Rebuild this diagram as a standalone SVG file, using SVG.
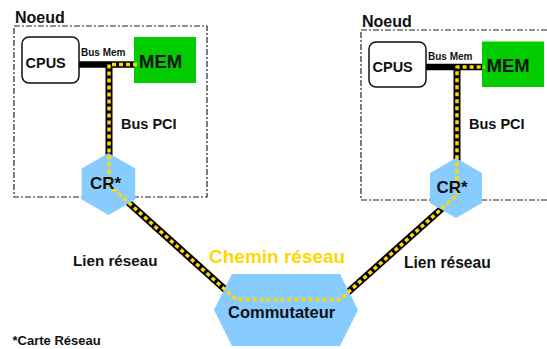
<svg xmlns="http://www.w3.org/2000/svg" width="547" height="349" viewBox="0 0 547 349">
<style>
text{font-family:"Liberation Sans",Arial,sans-serif;font-weight:bold;fill:#111}
.frame{fill:none;stroke:#222;stroke-width:1.2;stroke-dasharray:6 2 2 2}
.cpu{fill:#fff;stroke:#111;stroke-width:1.5}
.mem{fill:#00CC00}
.hex{fill:#88CCFF}
.wire{fill:none;stroke:#000;stroke-width:7}
.bus{fill:none;stroke:#000;stroke-width:6.5}
.route{fill:none;stroke:#FFD700;stroke-width:3.5;stroke-dasharray:4 3;stroke-linejoin:round}
</style>
<rect width="547" height="349" fill="#fff"/>
<g id="noeud1">
<rect class="frame" x="14" y="26" width="193" height="171"/>
<text x="15" y="23" font-size="16">Noeud</text>
</g>
<g id="noeud2">
<rect class="frame" x="361" y="30" width="200" height="170"/>
<text x="362" y="27" font-size="16">Noeud</text>
</g>
<g id="connectors">
<line class="bus" x1="79" y1="64.5" x2="134" y2="64.5"/>
<line class="wire" x1="109" y1="64.5" x2="109" y2="160"/>
<line class="wire" x1="109" y1="185" x2="229" y2="293"/>
<line class="bus" x1="426" y1="67" x2="482" y2="67"/>
<line class="wire" x1="457" y1="67" x2="457" y2="165"/>
<line class="wire" x1="457" y1="195" x2="346" y2="294"/>
</g>
<g id="cpus1">
<rect class="cpu" x="22" y="37" width="57" height="46" rx="7"/>
<text x="25.5" y="68" font-size="14.5">CPUS</text>
</g>
<g id="mem1">
<rect class="mem" x="134" y="37" width="62" height="46"/>
<text x="139" y="68" font-size="18.5">MEM</text>
</g>
<g id="cr1">
<polygon class="hex" points="108.5,153 135.3,168.5 135.3,199.5 108.5,215 81.7,199.5 81.7,168.5"/>
</g>
<g id="cpus2">
<rect class="cpu" x="369" y="42" width="57" height="45" rx="7"/>
<text x="372.5" y="71.5" font-size="14.5">CPUS</text>
</g>
<g id="mem2">
<rect class="mem" x="482" y="41.5" width="62" height="45.5"/>
<text x="486.5" y="71.5" font-size="18.5">MEM</text>
</g>
<g id="cr2">
<polygon class="hex" points="456,158 482,173 482,203 456,218 430,203 430,173"/>
</g>
<g id="commutateur">
<polygon class="hex" points="232,274 340,274 358,310 340,346 232,346 214,310"/>
</g>
<g id="chemin">
<path class="route" d="M137,64.5 H109 V185 L236,299.5 H340 L457,195 V67 H485"/>
</g>
<g id="labels">
<text x="90" y="188.5" font-size="17">CR*</text>
<text x="436.5" y="192.5" font-size="17">CR*</text>
<text x="228" y="317.5" font-size="16.5">Commutateur</text>
<text x="81" y="56" font-size="10">Bus Mem</text>
<text x="428" y="60" font-size="10">Bus Mem</text>
<text x="121" y="128.5" font-size="14.5">Bus PCI</text>
<text x="469" y="128.5" font-size="14.5">Bus PCI</text>
<text x="73" y="266" font-size="15.2">Lien réseau</text>
<text x="404" y="267.5" font-size="15.6">Lien réseau</text>
<text x="209" y="262.5" font-size="19" style="fill:#FFD700">Chemin réseau</text>
<text x="12.5" y="344.5" font-size="13">*Carte Réseau</text>
</g>
</svg>
